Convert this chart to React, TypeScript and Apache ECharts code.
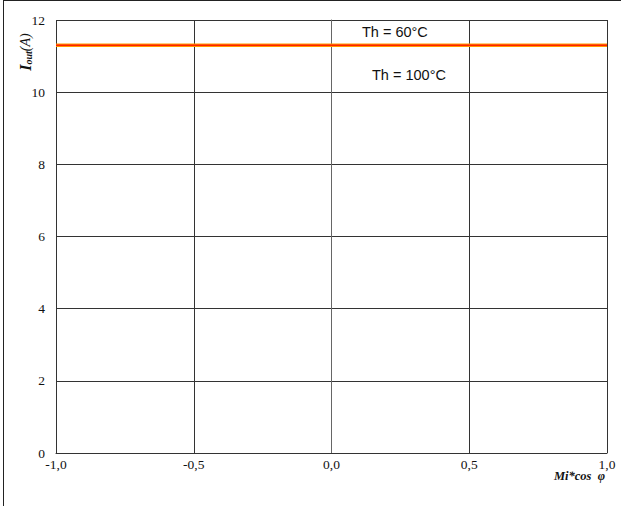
import React, { useEffect, useRef } from "react";
import * as echarts from "echarts";

const xValues = [-1.0, -0.5, 0.0, 0.5, 1.0];
const th60Values = [11.3, 11.3, 11.3, 11.3, 11.3];
const th100Values = [11.3, 11.3, 11.3, 11.3, 11.3];
const seriesNames = ["Th = 60°C", "Th = 100°C"];

export default function App() {
  const ref = useRef<HTMLDivElement>(null);
  useEffect(() => {
    if (!ref.current) return;
    const chart = echarts.init(ref.current, null, { renderer: "svg" });
    const fmt = (v: number) => v.toFixed(1).replace(".", ",");
    chart.setOption({
      animation: false,
      backgroundColor: "#ffffff",
      grid: { left: 56, top: 20, right: 14, bottom: 53, show: false },
      xAxis: {
        type: "value",
        min: -1,
        max: 1,
        interval: 0.5,
        axisLine: { show: true, lineStyle: { color: "#333", width: 1 } },
        axisTick: { show: false },
        axisLabel: {
          formatter: fmt,
          fontFamily: "Liberation Serif",
          fontSize: 13.5,
          color: "#111",
          margin: 4,
          showMaxLabel: true,
          showMinLabel: true,
        },
        splitLine: { show: true, lineStyle: { color: "#333", width: 1 } },
      },
      yAxis: {
        type: "value",
        min: 0,
        max: 12,
        interval: 2,
        axisLine: { show: true, lineStyle: { color: "#666", width: 1 } },
        axisTick: { show: false },
        axisLabel: {
          fontFamily: "Liberation Serif",
          fontSize: 13.5,
          color: "#111",
          margin: 11,
        },
        splitLine: { show: true, lineStyle: { color: "#333", width: 1 } },
      },
      series: [
        {
          name: seriesNames[1],
          type: "line",
          data: xValues.map((x, i) => [x, th100Values[i]]),
          showSymbol: false,
          lineStyle: { color: "#ff9900", width: 3.5 },
        },
        {
          name: seriesNames[0],
          type: "line",
          data: xValues.map((x, i) => [x, th60Values[i]]),
          showSymbol: false,
          lineStyle: { color: "#ff2200", width: 1.5 },
        },
      ],
      graphic: [
        { type: "line", shape: { x1: 3.5, y1: 0, x2: 3.5, y2: 506 }, style: { stroke: "#222", lineWidth: 1 } },
        { type: "line", shape: { x1: 3, y1: 0.5, x2: 621, y2: 0.5 }, style: { stroke: "#222", lineWidth: 1 } },
        {
          type: "text",
          x: 362,
          y: 32,
          style: {
            text: seriesNames[0],
            font: "14.5px 'Liberation Sans', Arial, sans-serif",
            fill: "#111",
            verticalAlign: "middle",
          },
        },
        {
          type: "text",
          x: 372,
          y: 75,
          style: {
            text: seriesNames[1],
            font: "14.5px 'Liberation Sans', Arial, sans-serif",
            fill: "#111",
            verticalAlign: "middle",
          },
        },
        {
          type: "text",
          x: 605,
          y: 476,
          style: {
            text: "Mi*cos  φ",
            font: "bold italic 12.5px 'Liberation Serif', serif",
            fill: "#111",
            align: "right",
            verticalAlign: "middle",
          },
        },
        {
          type: "text",
          x: 25,
          y: 52,
          rotation: Math.PI / 2,
          style: {
            text: "{i|I}{s|out}{n|(A)}",
            align: "center",
            verticalAlign: "middle",
            fill: "#111",
            rich: {
              i: { fontFamily: "Liberation Serif", fontWeight: "bold", fontStyle: "italic", fontSize: 16, fill: "#111", verticalAlign: "middle" },
              s: { fontFamily: "Liberation Serif", fontWeight: "bold", fontStyle: "italic", fontSize: 10, fill: "#111", verticalAlign: "bottom", padding: [6, 0, 0, 0] },
              n: { fontFamily: "Liberation Serif", fontStyle: "italic", fontSize: 14, fill: "#111", verticalAlign: "middle" },
            },
          },
        },
      ],
    });
    return () => chart.dispose();
  }, []);
  return (
    <div
      ref={ref}
      style={{ position: "absolute", left: 0, top: 0, width: 621, height: 506 }}
    />
  );
}
